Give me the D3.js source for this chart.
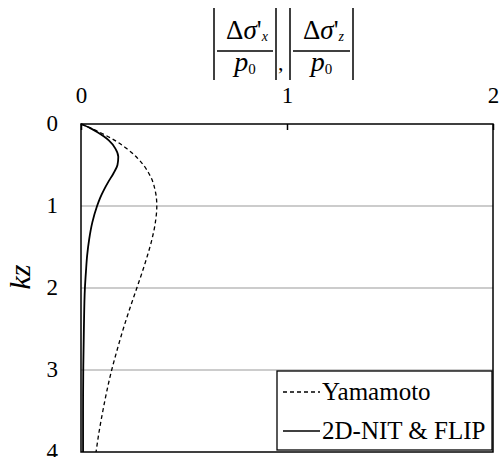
<!DOCTYPE html>
<html>
<head>
<meta charset="utf-8">
<script src="https://cdn.jsdelivr.net/npm/d3@7"></script>
<style>
    body { margin: 0; background: #fff; }
    svg { display: block; }
</style>
</head>
<body>
<svg id="chart" width="500" height="457"></svg>
<script>
// Depth axis (kz) and stress ratio readings
const kzYamamoto = [0, 0.1, 0.2, 0.3, 0.4, 0.5, 0.6, 0.7, 0.8, 0.9, 1.0, 1.2, 1.4, 1.6, 1.8, 2.0, 2.25, 2.5, 2.75, 3.0, 3.25, 3.5, 3.75, 4.0];
const yamamoto = [0, 0.09, 0.164, 0.222, 0.268, 0.303, 0.329, 0.348, 0.359, 0.366, 0.368, 0.361, 0.345, 0.323, 0.298, 0.271, 0.237, 0.205, 0.176, 0.149, 0.126, 0.106, 0.088, 0.073];

const kzFlip = [0, 0.05, 0.1, 0.15, 0.2, 0.3, 0.4, 0.5, 0.6, 0.7, 0.8, 0.9, 1.0, 1.2, 1.4, 1.6, 1.8, 2.0, 2.5, 3.0, 3.5, 4.0];
const flip = [0, 0.045, 0.08, 0.11, 0.135, 0.167, 0.181, 0.177, 0.158, 0.134, 0.112, 0.093, 0.078, 0.055, 0.040, 0.030, 0.024, 0.019, 0.014, 0.011, 0.010, 0.010];

const xTicks = [0, 1, 2];
const yTicks = [0, 1, 2, 3, 4];
const legendLabels = ['Yamamoto', '2D-NIT & FLIP'];

const FONT = '"Liberation Serif", "Times New Roman", serif';
const svg = d3.select('#chart');
const plot = { left: 81, right: 493, top: 124, bottom: 452 };

const x = d3.scaleLinear().domain([0, 2]).range([plot.left, plot.right]);
const y = d3.scaleLinear().domain([0, 4]).range([plot.top, plot.bottom]);

// Grid lines
svg.append('g')
    .selectAll('line')
    .data(yTicks.filter(d => d > 0 && d < 4))
    .join('line')
    .attr('x1', plot.left).attr('x2', plot.right)
    .attr('y1', d => y(d)).attr('y2', d => y(d))
    .attr('stroke', '#9a9a9a')
    .attr('stroke-width', 1.2);

// Top axis
const xAxis = svg.append('g')
    .attr('transform', `translate(0,${plot.top})`)
    .call(d3.axisTop(x).tickValues(xTicks).tickSize(-6).tickPadding(21).tickFormat(d3.format('d')));
xAxis.select('.domain').remove();
xAxis.selectAll('line').attr('stroke', '#000').attr('stroke-width', 1.5);
xAxis.selectAll('text')
    .style('font-size', '23px')
    .attr('fill', '#000');

// Left axis
const yAxis = svg.append('g')
    .attr('transform', `translate(${plot.left},0)`)
    .call(d3.axisLeft(y).tickValues(yTicks).tickSize(0).tickPadding(23).tickFormat(d3.format('d')));
yAxis.select('.domain').remove();
yAxis.selectAll('text')
    .style('font-size', '23px')
    .attr('dy', '0.28em')
    .attr('fill', '#000');

// Frame
svg.append('rect')
    .attr('x', plot.left).attr('y', plot.top)
    .attr('width', plot.right - plot.left).attr('height', plot.bottom - plot.top)
    .attr('fill', 'none')
    .attr('stroke', '#000')
    .attr('stroke-width', 1.5);

// Curves
const line = d3.line()
    .x(d => x(d[0]))
    .y(d => y(d[1]))
    .curve(d3.curveMonotoneY);

svg.append('path')
    .datum(yamamoto.map((v, i) => [v, kzYamamoto[i]]))
    .attr('d', line)
    .attr('fill', 'none')
    .attr('stroke', '#000')
    .attr('stroke-width', 1.3)
    .attr('stroke-dasharray', '4,3');

svg.append('path')
    .datum(flip.map((v, i) => [v, kzFlip[i]]))
    .attr('d', line)
    .attr('fill', 'none')
    .attr('stroke', '#000')
    .attr('stroke-width', 1.8);

// Y axis title
svg.append('text')
    .attr('transform', 'translate(30,277) rotate(-90)')
    .attr('text-anchor', 'middle')
    .style('font-size', '30px')
    .style('font-style', 'italic')
    .text('kz');

// X axis title: |Δσ'x / p0| , |Δσ'z / p0|
const title = svg.append('g');
function fraction(x0, x1, sub) {
    const cx = (x0 + x1) / 2;
    title.append('line')
        .attr('x1', x0 - 3).attr('x2', x0 - 3).attr('y1', 8).attr('y2', 80)
        .attr('stroke', '#000').attr('stroke-width', 1.5);
    title.append('line')
        .attr('x1', x1 + 3).attr('x2', x1 + 3).attr('y1', 8).attr('y2', 80)
        .attr('stroke', '#000').attr('stroke-width', 1.5);
    title.append('line')
        .attr('x1', x0).attr('x2', x1).attr('y1', 51).attr('y2', 51)
        .attr('stroke', '#000').attr('stroke-width', 1.3);
    const num = title.append('text')
        .attr('x', cx + 2).attr('y', 39)
        .attr('text-anchor', 'middle')
        .style('font-size', '27px');
    num.append('tspan').text('Δ');
    num.append('tspan').style('font-style', 'italic').text('σ');
    num.append('tspan').text("'");
    num.append('tspan').style('font-style', 'italic').style('font-size', '14px').attr('dy', 2).text(sub);
    const den = title.append('text')
        .attr('x', cx).attr('y', 71)
        .attr('text-anchor', 'middle')
        .style('font-size', '28px');
    den.append('tspan').style('font-style', 'italic').text('p');
    den.append('tspan').style('font-size', '15px').attr('dy', 3).text('0');
}
fraction(217, 273, 'x');
fraction(293, 350, 'z');
title.append('text')
    .attr('x', 278).attr('y', 70)
    .style('font-size', '22px')
    .text(',');

// Legend
const legend = svg.append('g');
legend.append('rect')
    .attr('x', 277).attr('y', 371)
    .attr('width', 215).attr('height', 79)
    .attr('fill', '#fff')
    .attr('stroke', '#000')
    .attr('stroke-width', 1.3);

const legendItems = legend.selectAll('g')
    .data(legendLabels)
    .join('g')
    .attr('transform', (d, i) => `translate(283,${392 + i * 39})`);

legendItems.append('line')
    .attr('x1', 0).attr('x2', 37)
    .attr('stroke', '#000')
    .attr('stroke-width', (d, i) => i === 0 ? 1.3 : 1.6)
    .attr('stroke-dasharray', (d, i) => i === 0 ? '4,3' : null);

legendItems.append('text')
    .attr('x', 39)
    .attr('dy', '0.33em')
    .style('font-size', '25px')
    .text(d => d);

// Serif font everywhere
svg.selectAll('text').style('font-family', FONT);
</script>
</body>
</html>
